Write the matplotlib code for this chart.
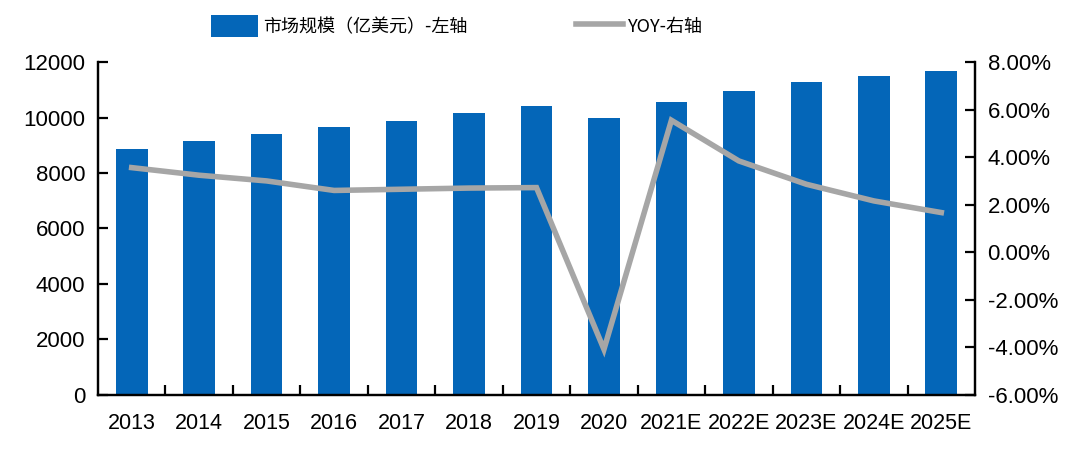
import matplotlib
matplotlib.use("Agg")
import matplotlib.pyplot as plt
from matplotlib.ticker import FuncFormatter
import numpy as np

plt.rcParams['font.family'] = ['Liberation Sans', 'Noto Sans CJK SC', 'DejaVu Sans']

# data
years = ['2013', '2014', '2015', '2016', '2017', '2018', '2019', '2020',
         '2021E', '2022E', '2023E', '2024E', '2025E']
market_size = [8850, 9140, 9400, 9640, 9880, 10150, 10400, 10000,
               10550, 10940, 11270, 11500, 11690]
yoy = [3.56, 3.24, 3.0, 2.6, 2.65, 2.7, 2.72, -4.08,
       5.55, 3.84, 2.86, 2.16, 1.67]

bar_color = '#0466B8'
line_color = '#A6A6A6'

fig = plt.figure(figsize=(10.8, 4.54), dpi=100)
ax = fig.add_axes([0.0907, 0.130, 0.8121, 0.7334])
ax2 = ax.twinx()

x = np.arange(len(years))
bars = ax.bar(x, market_size, width=0.47, color=bar_color, zorder=2,
              label='市场规模（亿美元）-左轴')
line, = ax2.plot(x, yoy, color=line_color, lw=4.0, solid_joinstyle='miter',
                 label='YOY-右轴')

ax.set_xlim(-0.5, len(years) - 0.5)
ax.set_ylim(0, 12000)
ax.set_yticks(range(0, 12001, 2000))
ax2.set_ylim(-6, 8)
ax2.set_yticks(range(-6, 9, 2))
ax2.yaxis.set_major_formatter(FuncFormatter(lambda v, p: '%.2f%%' % v))

ax.set_xticks(x)
ax.set_xticklabels(years)
ax.set_xticks(np.arange(0.5, len(years) - 1, 1), minor=True)
ax.tick_params(axis='x', which='major', length=0, pad=13, labelsize=15.5)
ax.tick_params(axis='x', which='minor', direction='in', length=7, width=1.6)
ax.tick_params(axis='y', direction='in', length=7, width=1.6, labelsize=16, pad=9)
ax2.tick_params(axis='y', direction='in', length=7, width=1.6, labelsize=16, pad=9)

for a in (ax, ax2):
    for s in a.spines.values():
        s.set_linewidth(1.6)
    a.spines['top'].set_visible(False)

fig.legend([bars, line], ['市场规模（亿美元）-左轴', 'YOY-右轴'],
           loc='center', bbox_to_anchor=(0.423, 0.942), ncol=2, frameon=False,
           prop={'family': ['Noto Sans CJK SC', 'DejaVu Sans'], 'size': 13},
           handlelength=2.6, handleheight=1.5, handletextpad=0.3,
           columnspacing=6.0)

fig.savefig('out.png', dpi=100)
